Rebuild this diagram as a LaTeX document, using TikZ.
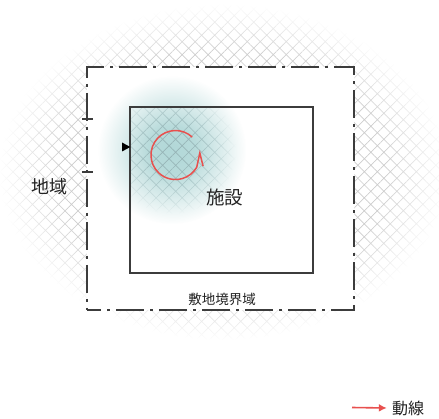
\documentclass[tikz,border=0pt]{standalone}
\usepackage{fontspec}
\newfontfamily\jp{Noto Sans CJK JP}
\usetikzlibrary{patterns.meta,fadings,arrows.meta}
\pgfdeclareradialshading{hatchfadeshade}{\pgfpointorigin}{color(0bp)=(pgftransparent!0); color(18bp)=(pgftransparent!0); color(25bp)=(pgftransparent!100); color(50bp)=(pgftransparent!100)}
\pgfdeclarefading{hatchfade}{\pgfuseshading{hatchfadeshade}}
\pgfdeclareradialshading{glowfadeshade}{\pgfpointorigin}{color(0bp)=(pgftransparent!0); color(8bp)=(pgftransparent!8); color(25bp)=(pgftransparent!100); color(50bp)=(pgftransparent!100)}
\pgfdeclarefading{glowfade}{\pgfuseshading{glowfadeshade}}
\definecolor{hatchgray}{RGB}{205,205,205}
\definecolor{glowteal}{RGB}{178,216,216}
\definecolor{glowhatch}{RGB}{150,180,182}
\definecolor{linegray}{RGB}{60,60,60}
\definecolor{flowred}{RGB}{232,80,78}
\definecolor{textgray}{RGB}{34,34,34}
\tikzset{
  boundarybox/.style={draw=linegray, fill=white, line width=1.3pt, inner sep=0pt,
    dash pattern=on 28pt off 6pt on 3pt off 6pt, dash phase=14pt},
  facilitybox/.style={draw=linegray, line width=1.2pt, inner sep=0pt},
  jptext/.style={font=\jp, text=textgray, inner sep=1pt},
  tickline/.style={draw=linegray, line width=1.1pt},
  flowarrow/.style={draw=flowred, line width=1.5pt, line join=round, -{Straight Barb[length=12pt,width=12pt,right,line width=1.5pt]}},
  legendarrow/.style={draw=flowred, line width=1.6pt, -{Latex[length=8pt,width=8pt]}},
}
\begin{document}
\begin{tikzpicture}[x=1pt,y=-1pt]
\useasboundingbox (0,0) rectangle (439,419);
% surrounding region hatch
\fill[pattern={Hatch[angle=45,distance=9.2pt,line width=0.7pt]}, pattern color=hatchgray, path fading=hatchfade]
  (223,172) ellipse [x radius=224, y radius=168];
% site boundary
\node[boundarybox, minimum width=267pt, minimum height=243pt] (boundary) at (220.5,188.5) {};
% glow
\fill[glowteal, path fading=glowfade] (172,150) circle (74);
\begin{scope}
  \clip (130,107) rectangle (313,273);
  \fill[pattern={Hatch[angle=45,distance=9.2pt,line width=0.6pt]}, pattern color=glowhatch, path fading=glowfade]
    (172,150) circle (64);
\end{scope}
% facility
\node[facilitybox, minimum width=183pt, minimum height=166pt] (facility) at (221.5,190) {};
% ticks
\draw[tickline] (82,119) -- (93,119);
\draw[tickline] (82,172) -- (93,172);
% entry triangle
\fill[black] (122,142.5) -- (130.3,147) -- (122,151.5) -- cycle;
% circulation arrow
\coordinate (flowtip) at (200.5,150);
\draw[flowarrow] (192.2,137.1) arc[start angle=-47, end angle=-330, radius=24.5] -- (flowtip);
% labels
\node[jptext, font=\jp\fontsize{18}{20}\selectfont] (region) at (49.5,187) {地域};
\node[jptext, font=\jp\fontsize{18.5}{20}\selectfont] (fac) at (224.5,197) {施設};
\node[jptext, font=\jp\fontsize{13.5}{15}\selectfont] (bdlabel) at (222,299.5) {敷地境界域};
% legend
\node[jptext, font=\jp\fontsize{16}{18}\selectfont] (legend) at (408,408) {動線};
\coordinate (legstart) at (352,407.5);
\draw[legendarrow] (legstart) -- ([xshift=-4pt]legend.west);
\end{tikzpicture}
\end{document}
